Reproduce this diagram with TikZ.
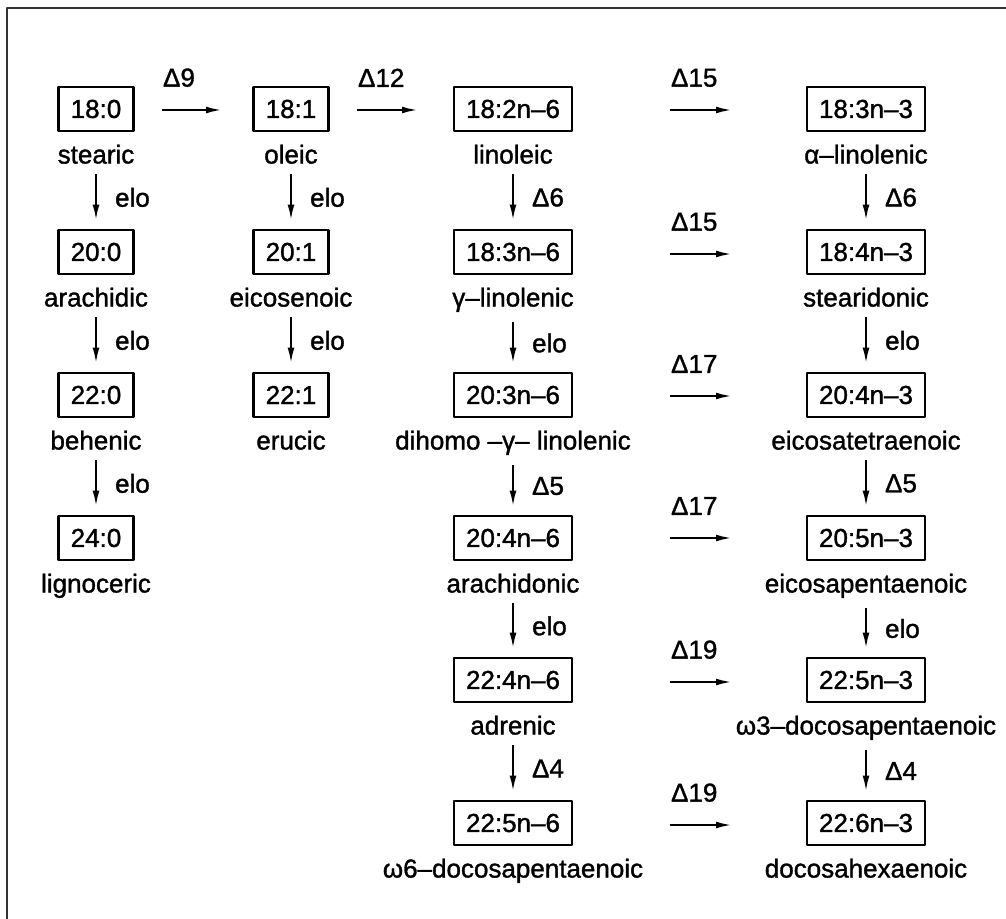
\documentclass[tikz,border=0pt]{standalone}
\usepackage{fontspec}
\setmainfont{Liberation Sans}
\newfontfamily\chartfont{Liberation Sans}[FakeBold=1.3]
\usetikzlibrary{arrows.meta,positioning}

\begin{document}
\begin{tikzpicture}[x=0.5pt,y=-0.5pt,>={Latex[length=8pt,width=3.4pt]},line join=round,
  acid/.style={draw,line width=1.3pt,minimum height=22pt,inner xsep=6pt,inner ysep=3pt,font=\chartfont\fontsize{13}{15}\selectfont},
  trivial/.style={font=\chartfont\fontsize{13}{15}\selectfont,inner sep=1pt},
  enz/.style={font=\chartfont\fontsize{13}{15}\selectfont,inner sep=0pt},
  conv/.style={->,line width=1.1pt}]

  \useasboundingbox (0,0) rectangle (1006,919);
  % frame
  \draw[line width=1.2pt, black!80] (7,919) -- (7,8) -- (1006,8);

  % 1. acids: box and trivial name below
  \foreach \nm/\x/\y/\fa/\tri in {
      s18/96/109/18:0/stearic, s20/96/252/20:0/arachidic,
      s22/96/395/22:0/behenic, s24/96/538/24:0/lignoceric,
      m18/291/109/18:1/oleic, m20/291/252/20:1/eicosenoic,
      m22/291/395/22:1/erucic,
      wsa/513/109/18:2n–6/linoleic, wsb/513/252/18:3n–6/γ–linolenic,
      wsc/513/395/20:3n–6/dihomo –γ– linolenic, wsd/513/538/20:4n–6/arachidonic,
      wse/513/680/22:4n–6/adrenic, wsf/513/823/22:5n–6/ω6–docosapentaenoic,
      wta/866/109/18:3n–3/α–linolenic, wtb/866/252/18:4n–3/stearidonic,
      wtc/866/395/20:4n–3/eicosatetraenoic, wtd/866/538/20:5n–3/eicosapentaenoic,
      wte/866/680/22:5n–3/ω3–docosapentaenoic, wtf/866/823/22:6n–3/docosahexaenoic}
  {
    \node[acid] (\nm) at (\x,\y) {\fa};
    \node[trivial, below=5pt of \nm] (\nm t) {\tri};
  }

  % 2. elongation and desaturation down the columns
  \foreach \a/\b/\lab in {s18/s20/elo, s20/s22/elo, s22/s24/elo,
      m18/m20/elo, m20/m22/elo,
      wsa/wsb/Δ6, wsb/wsc/elo, wsc/wsd/Δ5, wsd/wse/elo, wse/wsf/Δ4,
      wta/wtb/Δ6, wtb/wtc/elo, wtc/wtd/Δ5, wtd/wte/elo, wte/wtf/Δ4}
    \draw[conv, shorten <=4pt, shorten >=4pt] (\a t) -- (\b) node[midway, enz, right=9pt] {\lab};

  % 3. desaturation across the rows
  \coordinate (d9a) at (162,110);  \coordinate (d9b) at (222,110);
  \coordinate (d12a) at (357,110); \coordinate (d12b) at (418,110);
  \foreach \i/\y in {1/110,2/254,3/396,4/538,5/682,6/825}
  {
    \coordinate (dla\i) at (670,\y);
    \coordinate (dlb\i) at (732,\y);
  }
  \draw[conv] (d9a) -- (d9b) node[pos=0, enz, anchor=south west, yshift=11pt] {Δ9};
  \draw[conv] (d12a) -- (d12b) node[pos=0, enz, anchor=south west, yshift=11pt] {Δ12};
  \foreach \i/\lab in {1/Δ15,2/Δ15,3/Δ17,4/Δ17,5/Δ19,6/Δ19}
    \draw[conv] (dla\i) -- (dlb\i) node[pos=0, enz, anchor=south west, yshift=11pt] {\lab};

\end{tikzpicture}
\end{document}
